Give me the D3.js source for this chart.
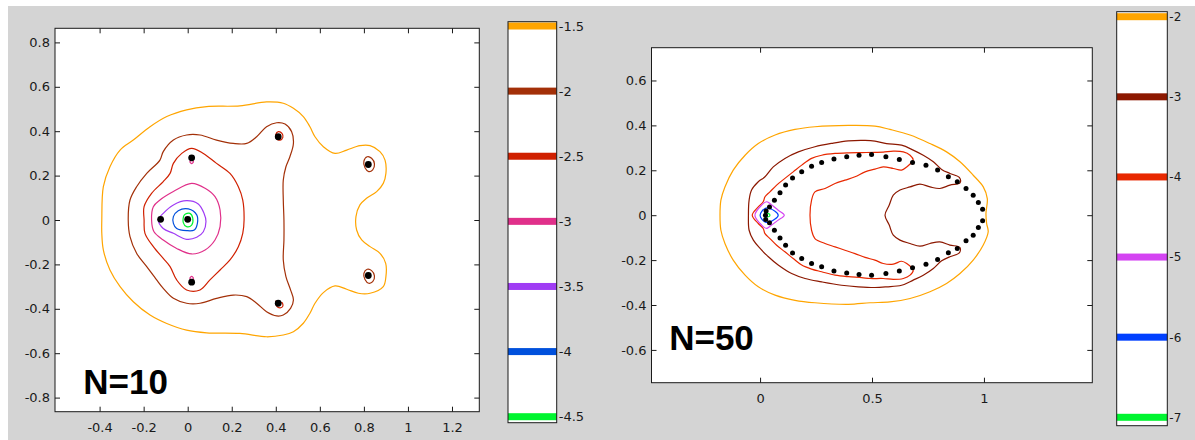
<!DOCTYPE html>
<html>
<head>
<meta charset="utf-8">
<script src="https://cdn.jsdelivr.net/npm/d3@7"></script>
<style>
body { margin: 0; background: #fff; }
svg { display: block; }
</style>
</head>
<body>
<div id="chart"></div>
<script>
// contour levels (log10 eps) and their colours
const levelsN10 = [-1.5, -2, -2.5, -3, -3.5, -4, -4.5];
const colorsN10 = ["#ffa500", "#a33008", "#d02000", "#e0308a", "#a03cf4", "#0050dc", "#00f530"];
const levelsN50 = [-2, -3, -4, -5, -6, -7];
const colorsN50 = ["#ffa500", "#8c1800", "#e82800", "#d444f2", "#0040ff", "#00f530"];

// tick values
const xTicksN10 = [-0.4, -0.2, 0, 0.2, 0.4, 0.6, 0.8, 1, 1.2];
const yTicksN10 = [-0.8, -0.6, -0.4, -0.2, 0, 0.2, 0.4, 0.6, 0.8];
const xTicksN50 = [0, 0.5, 1];
const yTicksN50 = [-0.6, -0.4, -0.2, 0, 0.2, 0.4, 0.6];

// eigenvalues
const eigN10 = [[0, 0.003], [-0.123, 0.003], [0.018, 0.28], [0.018, -0.28], [0.411, 0.375],
  [0.411, -0.375], [0.82, 0.25], [0.82, -0.25]];
const eigN50 = [[0.042, 0.037], [0.027, 0.019], [0.024, 0], [0.025, -0.019], [0.042, -0.034],
  [0.064, 0.067], [0.089, 0.1], [0.114, 0.134], [0.145, 0.166], [0.186, 0.193], [0.23, 0.218],
  [0.275, 0.235], [0.33, 0.25], [0.387, 0.26], [0.442, 0.267], [0.498, 0.27], [0.562, 0.26],
  [0.622, 0.248], [0.681, 0.235], [0.741, 0.223], [0.793, 0.201], [0.841, 0.171], [0.881, 0.149],
  [0.92, 0.119], [0.952, 0.089], [0.975, 0.057], [0.994, 0.027], [0.994, -0.025], [0.975, -0.055],
  [0.952, -0.089], [0.92, -0.114], [0.881, -0.148], [0.841, -0.167], [0.793, -0.197], [0.741, -0.218],
  [0.681, -0.234], [0.622, -0.248], [0.562, -0.26], [0.498, -0.267], [0.442, -0.264], [0.387, -0.257],
  [0.33, -0.248], [0.275, -0.23], [0.23, -0.215], [0.186, -0.193], [0.145, -0.168], [0.114, -0.134],
  [0.089, -0.101], [0.064, -0.067]];

// contour lines, N=10
const n10Lvl15 = [[-0.39, 0], [-0.383, 0.15], [-0.353, 0.24], [-0.307, 0.315], [-0.247, 0.36], [-0.171, 0.42],
  [-0.095, 0.466], [-0.005, 0.496], [0.086, 0.511], [0.237, 0.514], [0.358, 0.532], [0.434, 0.526],
  [0.48, 0.503], [0.525, 0.466], [0.555, 0.42], [0.578, 0.375], [0.616, 0.33], [0.669, 0.3], [0.722, 0.315],
  [0.782, 0.335], [0.828, 0.335], [0.873, 0.308], [0.896, 0.27], [0.9, 0.21], [0.888, 0.165], [0.858, 0.128],
  [0.812, 0.098], [0.782, 0.068], [0.764, 0.015], [0.767, -0.045], [0.79, -0.09], [0.828, -0.12],
  [0.873, -0.15], [0.899, -0.195], [0.9, -0.255], [0.888, -0.3], [0.828, -0.33], [0.775, -0.33],
  [0.722, -0.312], [0.669, -0.297], [0.616, -0.327], [0.578, -0.375], [0.555, -0.42], [0.525, -0.465],
  [0.48, -0.503], [0.434, -0.518], [0.358, -0.526], [0.237, -0.511], [0.086, -0.508], [-0.005, -0.496],
  [-0.095, -0.466], [-0.171, -0.428], [-0.247, -0.368], [-0.307, -0.3], [-0.353, -0.225], [-0.383, -0.135],
  [-0.39, -0.06]];
const n10Lvl20 = [[-0.27, 0], [-0.262, 0.09], [-0.232, 0.15], [-0.186, 0.21], [-0.126, 0.27], [-0.111, 0.308],
  [-0.065, 0.36], [-0.005, 0.383], [0.056, 0.383], [0.131, 0.36], [0.207, 0.345], [0.268, 0.345],
  [0.313, 0.375], [0.358, 0.42], [0.404, 0.438], [0.442, 0.432], [0.472, 0.398], [0.48, 0.345],
  [0.464, 0.285], [0.446, 0.24], [0.434, 0.18], [0.434, 0.09], [0.437, 0], [0.437, -0.09], [0.434, -0.18],
  [0.446, -0.255], [0.467, -0.315], [0.48, -0.36], [0.467, -0.398], [0.434, -0.428], [0.404, -0.432],
  [0.358, -0.413], [0.313, -0.375], [0.268, -0.345], [0.207, -0.338], [0.131, -0.353], [0.056, -0.375],
  [-0.005, -0.375], [-0.065, -0.353], [-0.111, -0.308], [-0.141, -0.27], [-0.186, -0.21], [-0.232, -0.15],
  [-0.262, -0.075]];
const n10Lvl20b = [[0.8, 0.265], [0.815, 0.285], [0.835, 0.278], [0.848, 0.252], [0.84, 0.226], [0.822, 0.218], [0.805, 0.235]];
const n10Lvl20c = [[0.8, -0.24], [0.815, -0.222], [0.835, -0.228], [0.848, -0.252], [0.84, -0.278], [0.822, -0.285], [0.805, -0.268]];
const n10Lvl25 = [[-0.198, 0], [-0.198, 0.06], [-0.164, 0.12], [-0.111, 0.173], [-0.08, 0.21], [-0.065, 0.255],
  [-0.027, 0.3], [0.018, 0.323], [0.071, 0.3], [0.131, 0.255], [0.192, 0.21], [0.23, 0.15], [0.25, 0.09],
  [0.256, 0], [0.25, -0.06], [0.23, -0.12], [0.192, -0.18], [0.147, -0.225], [0.101, -0.27], [0.056, -0.315],
  [-0.005, -0.315], [-0.05, -0.27], [-0.08, -0.21], [-0.111, -0.173], [-0.156, -0.12], [-0.194, -0.06]];
const n10Lvl25b = [[0.4, 0.385], [0.412, 0.398], [0.428, 0.39], [0.432, 0.372], [0.42, 0.36], [0.404, 0.366]];
const n10Lvl25c = [[0.4, -0.365], [0.412, -0.378], [0.428, -0.372], [0.432, -0.388], [0.42, -0.396], [0.404, -0.388]];
const n10Lvl30 = [[-0.164, 0], [-0.156, 0.06], [-0.126, 0.09], [-0.065, 0.128], [0.018, 0.165], [0.079, 0.143],
  [0.124, 0.105], [0.147, 0.045], [0.147, -0.03], [0.124, -0.09], [0.079, -0.135], [0.018, -0.153],
  [-0.05, -0.128], [-0.111, -0.09], [-0.153, -0.053]];
const n10Lvl30b = [[0.01, 0.262], [0.018, 0.27], [0.026, 0.262], [0.018, 0.254]];
const n10Lvl30c = [[0.01, -0.262], [0.018, -0.254], [0.026, -0.262], [0.018, -0.27]];
const n10Lvl35 = [[-0.133, 0], [-0.111, 0.03], [-0.065, 0.068], [-0.005, 0.087], [0.048, 0.072], [0.074, 0.03],
  [0.083, -0.007], [0.071, -0.053], [0.041, -0.078], [-0.005, -0.087], [-0.065, -0.06], [-0.111, -0.038]];
const n10Lvl40 = [[-0.065, 0.015], [-0.043, 0.042], [0.003, 0.05], [0.041, 0.023], [0.044, -0.015],
  [0.03, -0.045], [-0.005, -0.048], [-0.05, -0.038], [-0.065, -0.015]];
const n10Lvl45 = [[-0.015, 0.023], [0.01, 0.03], [0.023, 0.008], [0.018, -0.023], [-0.005, -0.03], [-0.02, -0.012]];

// contour lines, N=50
const n50Lvl2 = [[-0.179, 0], [-0.175, 0.067], [-0.157, 0.126], [-0.12, 0.201], [-0.067, 0.267], [-0.008, 0.319],
  [0.067, 0.357], [0.156, 0.382], [0.245, 0.394], [0.394, 0.4], [0.513, 0.397], [0.58, 0.382], [0.67, 0.357],
  [0.759, 0.319], [0.833, 0.282], [0.893, 0.238], [0.952, 0.178], [0.997, 0.126], [1.015, 0.074],
  [1.009, 0.008], [1.012, -0.037], [1.019, -0.074], [0.997, -0.133], [0.952, -0.2], [0.893, -0.26],
  [0.833, -0.304], [0.759, -0.341], [0.67, -0.371], [0.58, -0.386], [0.491, -0.39], [0.394, -0.397],
  [0.245, -0.39], [0.156, -0.379], [0.067, -0.356], [-0.008, -0.319], [-0.067, -0.267], [-0.12, -0.2],
  [-0.157, -0.126], [-0.175, -0.067]];
const n50Lvl3 = [[-0.052, 0], [-0.049, 0.067], [-0.038, 0.112], [-0.008, 0.149], [0.022, 0.171], [0.059, 0.215],
  [0.111, 0.253], [0.171, 0.282], [0.245, 0.305], [0.32, 0.32], [0.394, 0.331], [0.469, 0.333], [0.513, 0.33],
  [0.565, 0.319], [0.632, 0.312], [0.684, 0.29], [0.729, 0.267], [0.774, 0.238], [0.811, 0.204],
  [0.848, 0.186], [0.89, 0.168], [0.893, 0.144], [0.848, 0.134], [0.803, 0.119], [0.759, 0.126],
  [0.714, 0.138], [0.67, 0.126], [0.625, 0.112], [0.595, 0.089], [0.577, 0.045], [0.558, 0],
  [0.577, -0.044], [0.595, -0.089], [0.625, -0.111], [0.67, -0.126], [0.714, -0.138], [0.759, -0.126],
  [0.803, -0.119], [0.848, -0.133], [0.893, -0.144], [0.89, -0.168], [0.848, -0.185], [0.811, -0.203],
  [0.774, -0.237], [0.729, -0.267], [0.684, -0.289], [0.632, -0.312], [0.565, -0.319], [0.513, -0.322],
  [0.439, -0.319], [0.364, -0.312], [0.275, -0.297], [0.201, -0.282], [0.141, -0.26], [0.081, -0.222],
  [0.037, -0.185], [0, -0.148], [-0.03, -0.111], [-0.049, -0.067]];
const n50Lvl4 = [[-0.035, 0], [-0.008, 0.037], [0.014, 0.06], [0.022, 0.082], [0.044, 0.104], [0.074, 0.134],
  [0.111, 0.164], [0.148, 0.193], [0.186, 0.223], [0.23, 0.253], [0.275, 0.267], [0.335, 0.275],
  [0.394, 0.278], [0.454, 0.279], [0.513, 0.28], [0.55, 0.281], [0.595, 0.285], [0.64, 0.282],
  [0.67, 0.267], [0.684, 0.245], [0.67, 0.228], [0.655, 0.215], [0.632, 0.201], [0.595, 0.208],
  [0.55, 0.215], [0.513, 0.205], [0.469, 0.193], [0.424, 0.171], [0.379, 0.156], [0.335, 0.141],
  [0.29, 0.119], [0.245, 0.104], [0.23, 0.067], [0.223, 0], [0.23, -0.067], [0.245, -0.104], [0.29, -0.126],
  [0.335, -0.141], [0.379, -0.156], [0.424, -0.171], [0.469, -0.188], [0.513, -0.2], [0.55, -0.215],
  [0.595, -0.218], [0.632, -0.205], [0.655, -0.215], [0.684, -0.245], [0.67, -0.267], [0.64, -0.282],
  [0.595, -0.286], [0.55, -0.282], [0.491, -0.282], [0.454, -0.278], [0.394, -0.274], [0.335, -0.267],
  [0.275, -0.252], [0.23, -0.24], [0.186, -0.222], [0.148, -0.193], [0.111, -0.163], [0.074, -0.134],
  [0.044, -0.104], [0.022, -0.082], [0.014, -0.059], [-0.008, -0.037]];
const n50Lvl5 = [[-0.023, 0], [0.007, 0.045], [0.029, 0.06], [0.044, 0.052], [0.081, 0.022], [0.108, 0],
  [0.081, -0.022], [0.044, -0.049], [0.029, -0.059], [0.007, -0.044]];
const n50Lvl6 = [[0, 0], [0.022, 0.03], [0.044, 0.03], [0.081, 0], [0.044, -0.03], [0.022, -0.03]];
const n50Lvl7 = [[0.03, 0.006], [0.04, 0.006], [0.044, 0], [0.04, -0.006], [0.03, -0.006]];

const contoursN10 = [
  { level: -1.5, pts: n10Lvl15 }, { level: -2, pts: n10Lvl20 }, { level: -2, pts: n10Lvl20b },
  { level: -2, pts: n10Lvl20c }, { level: -2.5, pts: n10Lvl25 }, { level: -2.5, pts: n10Lvl25b },
  { level: -2.5, pts: n10Lvl25c }, { level: -3, pts: n10Lvl30 }, { level: -3, pts: n10Lvl30b },
  { level: -3, pts: n10Lvl30c }, { level: -3.5, pts: n10Lvl35 }, { level: -4, pts: n10Lvl40 },
  { level: -4.5, pts: n10Lvl45 }
];
const contoursN50 = [
  { level: -2, pts: n50Lvl2 }, { level: -3, pts: n50Lvl3 }, { level: -4, pts: n50Lvl4 },
  { level: -5, pts: n50Lvl5 }, { level: -6, pts: n50Lvl6 }, { level: -7, pts: n50Lvl7 }
];

const width = 1195, height = 440;
const ink = "#1a1a1a";
const labelFont = "DejaVu Sans, Verdana, sans-serif";

const svg = d3.select("#chart").append("svg")
  .attr("width", width)
  .attr("height", height);

// grey figure background
svg.append("rect").attr("x", 8).attr("y", 6).attr("width", width - 8).attr("height", height - 6)
  .attr("fill", "#d4d4d4");

const fmt = d => String(+d.toFixed(2));

function styleAxis(g, size) {
  g.select(".domain").remove();
  g.selectAll(".tick line").attr("stroke", ink);
  g.selectAll("text").attr("fill", ink)
    .style("font-family", labelFont).style("font-size", size + "px");
}

function drawPanel(p) {
  const x = d3.scaleLinear().domain(p.xDomain).range([p.left, p.right]);
  const y = d3.scaleLinear().domain(p.yDomain).range([p.bottom, p.top]);
  const color = d3.scaleOrdinal(p.levels, p.colors);

  svg.append("rect")
    .attr("x", p.left).attr("y", p.top)
    .attr("width", p.right - p.left).attr("height", p.bottom - p.top)
    .attr("fill", "#fff");

  const line = d3.line()
    .x(d => x(d[0]))
    .y(d => y(d[1]))
    .curve(d3.curveCatmullRomClosed.alpha(0.5));

  svg.append("g").selectAll("path")
    .data(p.contours)
    .join("path")
    .attr("d", d => line(d.pts))
    .attr("fill", "none")
    .attr("stroke", d => color(d.level))
    .attr("stroke-width", 1.2);

  svg.append("g").selectAll("circle")
    .data(p.eigs)
    .join("circle")
    .attr("cx", d => x(d[0]))
    .attr("cy", d => y(d[1]))
    .attr("r", p.dotR)
    .attr("fill", "#000");

  // ticks inside on all four sides, labels on bottom and left
  svg.append("g").attr("transform", `translate(0,${p.bottom})`)
    .call(d3.axisBottom(x).tickValues(p.xTicks).tickSize(-5).tickPadding(11).tickFormat(fmt))
    .call(g => styleAxis(g, 13));
  svg.append("g").attr("transform", `translate(0,${p.top})`)
    .call(d3.axisTop(x).tickValues(p.xTicks).tickSize(-5).tickFormat(""))
    .call(g => styleAxis(g, 13));
  svg.append("g").attr("transform", `translate(${p.left},0)`)
    .call(d3.axisLeft(y).tickValues(p.yTicks).tickSize(-5).tickPadding(5).tickFormat(fmt))
    .call(g => styleAxis(g, 13));
  svg.append("g").attr("transform", `translate(${p.right},0)`)
    .call(d3.axisRight(y).tickValues(p.yTicks).tickSize(-5).tickFormat(""))
    .call(g => styleAxis(g, 13));

  svg.append("rect")
    .attr("x", p.left).attr("y", p.top)
    .attr("width", p.right - p.left).attr("height", p.bottom - p.top)
    .attr("fill", "none").attr("stroke", ink).attr("stroke-width", 1);

  svg.append("text")
    .attr("x", x(p.label.x)).attr("y", y(p.label.y))
    .attr("fill", "#000")
    .style("font-family", "Liberation Sans, Arial, sans-serif")
    .style("font-size", "35px")
    .style("font-weight", "bold")
    .text(p.label.text);
}

function drawColorbar(c) {
  const s = d3.scaleLinear()
    .domain([c.levels[0], c.levels[c.levels.length - 1]])
    .range([c.first, c.last]);
  const color = d3.scaleOrdinal(c.levels, c.colors);

  svg.append("rect")
    .attr("x", c.left).attr("y", c.top)
    .attr("width", c.right - c.left).attr("height", c.bottom - c.top)
    .attr("fill", "#fff");

  svg.append("g").selectAll("rect")
    .data(c.levels)
    .join("rect")
    .attr("x", c.left)
    .attr("y", d => Math.max(c.top, s(d) - 3.5))
    .attr("width", c.right - c.left)
    .attr("height", 7)
    .attr("fill", d => color(d));

  svg.append("rect")
    .attr("x", c.left).attr("y", c.top)
    .attr("width", c.right - c.left).attr("height", c.bottom - c.top)
    .attr("fill", "none").attr("stroke", ink).attr("stroke-width", 1);

  svg.append("g").attr("transform", `translate(${c.right},0)`)
    .call(d3.axisRight(s).tickValues(c.levels).tickSize(0).tickPadding(2).tickFormat(fmt))
    .call(g => styleAxis(g, c.fontSize));
}

drawPanel({
  left: 55, right: 479.3, top: 28.3, bottom: 411.7,
  xDomain: [-0.6025, 1.324], yDomain: [-0.8635, 0.8635],
  xTicks: xTicksN10, yTicks: yTicksN10,
  levels: levelsN10, colors: colorsN10,
  contours: contoursN10, eigs: eigN10, dotR: 3.4,
  label: { text: "N=10", x: -0.474, y: -0.785 }
});

drawPanel({
  left: 651.5, right: 1092.3, top: 47.7, bottom: 382.7,
  xDomain: [-0.485, 1.484], yDomain: [-0.746, 0.746],
  xTicks: xTicksN50, yTicks: yTicksN50,
  levels: levelsN50, colors: colorsN50,
  contours: contoursN50, eigs: eigN50, dotR: 2.5,
  label: { text: "N=50", x: -0.406, y: -0.6 }
});

drawColorbar({
  left: 508, right: 556.7, top: 21.7, bottom: 422.7,
  first: 26, last: 416.7, levels: levelsN10, colors: colorsN10, fontSize: 13
});

drawColorbar({
  left: 1116.7, right: 1167.3, top: 11.7, bottom: 425.7,
  first: 16.7, last: 417.3, levels: levelsN50, colors: colorsN50, fontSize: 12
});
</script>
</body>
</html>
